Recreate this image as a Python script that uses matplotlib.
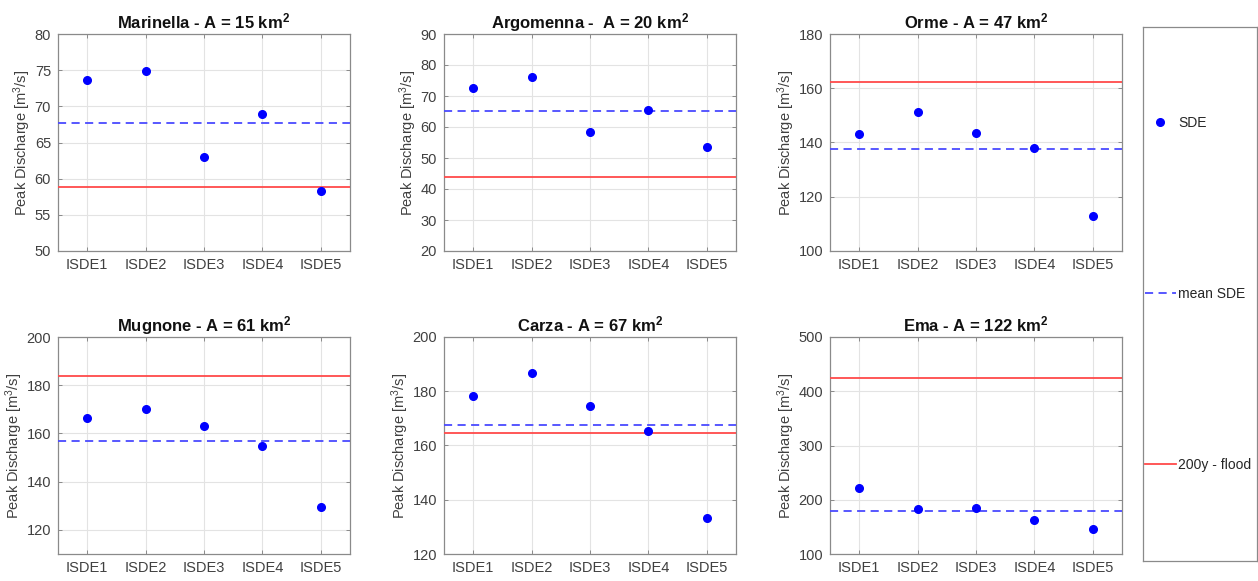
import numpy as np
import matplotlib
matplotlib.use("Agg")
import matplotlib.pyplot as plt

plt.rcParams['font.family'] = ['Liberation Sans', 'DejaVu Sans']
plt.rcParams['mathtext.fontset'] = 'custom'
plt.rcParams['mathtext.rm'] = 'Liberation Sans'
plt.rcParams['mathtext.bf'] = 'Liberation Sans:bold'
plt.rcParams['mathtext.it'] = 'Liberation Sans:italic'

categories = ["ISDE1", "ISDE2", "ISDE3", "ISDE4", "ISDE5"]
titles = [r"Marinella - A = 15 km$^{\mathbf{2}}$",
          r"Argomenna -  A = 20 km$^{\mathbf{2}}$",
          r"Orme - A = 47 km$^{\mathbf{2}}$",
          r"Mugnone - A = 61 km$^{\mathbf{2}}$",
          r"Carza - A = 67 km$^{\mathbf{2}}$",
          r"Ema - A = 122 km$^{\mathbf{2}}$"]

marinella = [73.6, 74.9, 63.0, 69.0, 58.3]
argomenna = [72.7, 76.1, 58.3, 65.4, 53.4]
orme = [143.1, 151.2, 143.6, 137.9, 113.0]
mugnone = [166.5, 170.1, 162.9, 154.8, 129.7]
carza = [178.2, 186.6, 174.5, 165.2, 133.1]
ema = [221.2, 183.1, 184.3, 162.2, 146.2]
series = [marinella, argomenna, orme, mugnone, carza, ema]

flood200 = [58.8, 44.0, 162.3, 183.7, 164.7, 423.7]

ylims = [(50, 80), (20, 90), (100, 180), (110, 200), (120, 200), (100, 500)]
yticks = [np.arange(50, 81, 5), np.arange(20, 91, 10), np.arange(100, 181, 20),
          np.arange(120, 201, 20), np.arange(120, 201, 20), np.arange(100, 501, 100)]

W, H = 1258, 581
fig = plt.figure(figsize=(W / 100, H / 100), dpi=100)

lefts = [58, 444, 830]
tops = [34, 337]
aw, ah = 292, 217

tick_color = '#404040'
spine_color = '#8a8a8a'
blue = '#0000ff'
blue_dash = '#4a4aff'
red = '#ff4a4a'

axes = []
for i in range(6):
    r, c = divmod(i, 3)
    l = lefts[c]
    t = tops[r]
    ax = fig.add_axes([l / W, (H - t - ah) / H, aw / W, ah / H])
    axes.append(ax)
    x = np.arange(1, len(categories) + 1)
    vals = np.array(series[i])
    ax.plot(x, vals, 'o', color=blue, markersize=5.5, label='SDE', zorder=4)
    ax.axhline(np.mean(vals), color=blue_dash, lw=1.3, ls=(0, (4.5, 3)), label='mean SDE', zorder=3)
    ax.axhline(flood200[i], color=red, lw=1.3, label='200y - flood', zorder=3)
    ax.set_xlim(0.5, 5.5)
    ax.set_ylim(*ylims[i])
    ax.set_xticks(x)
    ax.set_xticklabels(categories)
    ax.set_yticks(yticks[i])
    ax.grid(True, color='#e3e3e3', lw=0.8)
    ax.set_axisbelow(True)
    ax.tick_params(direction='in', top=True, right=True, length=3, width=0.7,
                   colors=spine_color, labelcolor=tick_color, labelsize=10.5, pad=5)
    for s in ax.spines.values():
        s.set_color(spine_color)
        s.set_linewidth(0.9)
    ax.set_ylabel(r"Peak Discharge [m$^{3}$/s]", fontsize=10.5, color=tick_color, labelpad=1)
    ax.set_title(titles[i], fontsize=12, fontweight='bold', color='#111111', pad=4)

# legend box
lax = fig.add_axes([1143 / W, 20 / H, 114 / W, 534 / H])
lax.set_xticks([])
lax.set_yticks([])
for s in lax.spines.values():
    s.set_color(spine_color)
    s.set_linewidth(0.9)
handles, labels = axes[0].get_legend_handles_labels()
leg = lax.legend(handles, labels, loc='center left', bbox_to_anchor=(0.0, 0.5),
                 frameon=False, fontsize=10, labelspacing=11.3, handlelength=2.2,
                 handletextpad=0.2, borderaxespad=0.0, borderpad=0.15)
for t in leg.get_texts():
    t.set_color('#262626')

fig.savefig("out.png", dpi=100)
